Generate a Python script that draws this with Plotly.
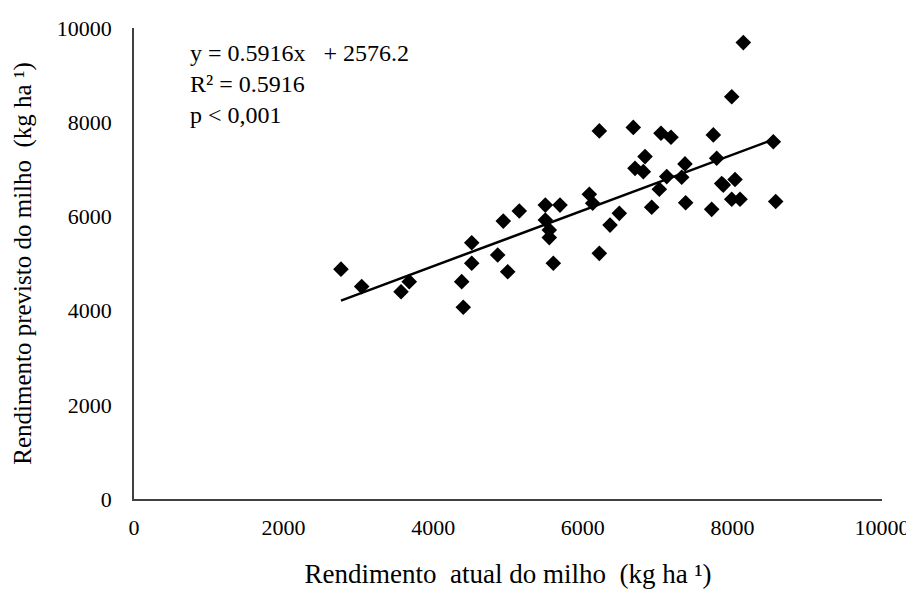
import plotly.graph_objects as go

# Observed (actual) maize yield, kg/ha
actual = [2767, 3044, 3570, 3680, 4381, 4402, 4515, 4515, 4862, 4996,
          4937, 5151, 5499, 5695, 5499, 5552, 5552, 5606, 6221, 6087,
          6132, 6221, 6364, 6488, 8146, 7991, 6675, 7045, 7179, 7745,
          8547, 6832, 6698, 6809, 7366, 7790, 7122, 7322, 7023, 7857,
          7878, 8035, 7991, 8102, 8579, 6921, 7375, 7723]
# Predicted maize yield, kg/ha
predicted = [4880, 4510, 4400, 4615, 4615, 4070, 5440, 5005, 5180, 4825,
             5900, 6115, 6240, 6240, 5925, 5710, 5550, 5005, 7815, 6470,
             6280, 5215, 5815, 6065, 9690, 8540, 7890, 7765, 7680, 7730,
             7585, 7270, 7020, 6950, 7115, 7235, 6845, 6830, 6575, 6700,
             6665, 6785, 6365, 6365, 6315, 6195, 6290, 6150]

slope = 0.5916
intercept = 2576.2
fit_x = [min(actual), max(actual)]
fit_y = [slope * v + intercept for v in fit_x]

tick_vals = [0, 2000, 4000, 6000, 8000, 10000]
tick_text = ["0", "2000", "4000", "6000", "8000", "10000"]

FONT = "Liberation Serif"

fig = go.Figure()
fig.add_trace(go.Scatter(
    x=actual, y=predicted, mode="markers",
    marker=dict(symbol="diamond", size=12, color="black", line=dict(width=0)),
    showlegend=False, hoverinfo="skip", cliponaxis=False))
fig.add_trace(go.Scatter(
    x=fit_x, y=fit_y, mode="lines",
    line=dict(color="black", width=2.5),
    showlegend=False, hoverinfo="skip"))

fig.add_annotation(
    xref="paper", yref="paper", x=0.072, y=0.978,
    xanchor="left", yanchor="top", align="left", showarrow=False,
    text="y = 0.5916x\u00a0\u00a0 + 2576.2<br>R² = 0.5916<br>p &lt; 0,001",
    font=dict(family=FONT, size=24, color="black"))

# page body has an 8px margin, so the figure is sized/offset to compensate
fig.update_layout(
    width=906, height=581,
    margin=dict(l=126, r=32, t=20, b=90),
    paper_bgcolor="white", plot_bgcolor="white",
    font=dict(family=FONT, size=22, color="black"),
    xaxis=dict(
        range=[0, 10000], tickvals=tick_vals, ticktext=tick_text,
        showgrid=False, zeroline=False, showline=True, automargin=False,
        linecolor="#404040", linewidth=1.5, ticks="",
        ticklabelstandoff=8,
        title=dict(text="Rendimento\u00a0 atual do milho\u00a0 (kg ha ¹)",
                   font=dict(family=FONT, size=27), standoff=26)),
    yaxis=dict(
        range=[0, 10000], tickvals=tick_vals, ticktext=tick_text,
        showgrid=False, zeroline=False, showline=True, automargin=False,
        linecolor="#404040", linewidth=1.5, ticks="",
        ticklabelstandoff=16,
        title=dict(text="Rendimento previsto do milho\u00a0 (kg ha ¹)",
                   font=dict(family=FONT, size=25), standoff=18)),
)

fig.write_html("out.html")
